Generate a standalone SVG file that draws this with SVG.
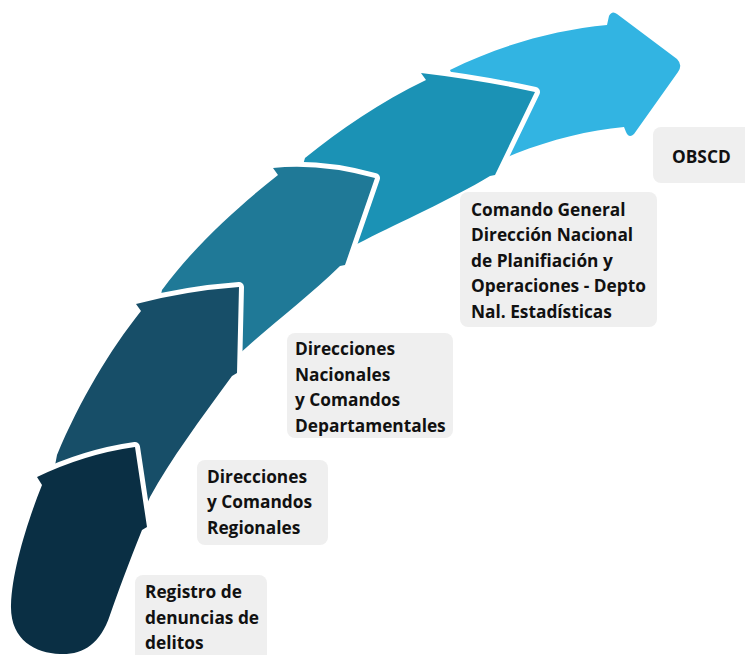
<svg xmlns="http://www.w3.org/2000/svg" width="745" height="655" viewBox="0 0 745 655">
<style>
.seg{stroke:#ffffff;stroke-width:10;stroke-linejoin:round;paint-order:stroke}
.box{fill:#efefef}
.lbl{font-family:"Open Sans",Lato,"DejaVu Sans",sans-serif;font-weight:700;font-size:17.3px;fill:#111111}
</style>
<rect width="745" height="655" fill="#ffffff"/>
<g id="connectors">
<path id="seg5" class="seg" fill="#32b4e2" d="M 450,70 C 500,45 555,30 607,25 L 609,16 Q 612,10 617,14 L 677,59 Q 683,65 678,72 L 634,134 Q 629,139 626,132 L 624,127 C 590,130 550,140 517,153 L 495,162 L 455,82 Z"/>
<path id="seg4" class="seg" fill="#1b92b5" d="M 426,80 L 421,73 Q 480,80 535,92 L 495,175 L 490,176 C 450,200 400,222 365,240 L 345,250 L 300,175 L 305,158 C 340,130 380,102 426,80 Z"/>
<path id="seg3" class="seg" fill="#1f7997" d="M 278,175 L 273,168 Q 320,163 375,178 L 345,265 L 340,266 C 310,295 275,322 247,347 L 230,362 L 158,308 L 162,290 C 195,245 240,205 278,175 Z"/>
<path id="seg2" class="seg" fill="#174e68" d="M 141,311 L 136,304 Q 185,291 239,287 L 237,373 L 232,376 C 200,420 170,460 150,497 L 140,520 L 50,492 L 57,455 C 80,400 110,350 141,311 Z"/>
<path id="seg1" class="seg" fill="#0a2f44" d="M 42,485 L 37,477 Q 85,454 135,447 L 147,527 L 142,530 C 128,565 118,592 110,615 C 100,645 82,655 60,654 C 35,653 10,640 11,605 C 12,570 28,520 42,485 Z"/>
</g>
<g id="n1">
<rect class="box" x="135" y="575" width="132" height="95" rx="8"/>
<text class="lbl" x="145" y="598">Registro de</text>
<text class="lbl" x="145" y="624">denuncias de</text>
<text class="lbl" x="145" y="649">delitos</text>
</g>
<g id="n2">
<rect class="box" x="197" y="460" width="131" height="85" rx="8"/>
<text class="lbl" x="207" y="483">Direcciones</text>
<text class="lbl" x="207" y="508">y Comandos</text>
<text class="lbl" x="207" y="534">Regionales</text>
</g>
<g id="n3">
<rect class="box" x="287" y="333" width="166" height="105" rx="8"/>
<text class="lbl" x="295" y="355">Direcciones</text>
<text class="lbl" x="295" y="381">Nacionales</text>
<text class="lbl" x="295" y="406">y Comandos</text>
<text class="lbl" x="295" y="432">Departamentales</text>
</g>
<g id="n4">
<rect class="box" x="460" y="192" width="197" height="135" rx="8"/>
<text class="lbl" x="471" y="216">Comando General</text>
<text class="lbl" x="471" y="241">Dirección Nacional</text>
<text class="lbl" x="471" y="267">de Planifiación y</text>
<text class="lbl" x="471" y="292">Operaciones - Depto</text>
<text class="lbl" x="471" y="318">Nal. Estadísticas</text>
</g>
<g id="n5">
<rect class="box" x="653" y="127" width="110" height="56" rx="8"/>
<text class="lbl" x="672" y="163">OBSCD</text>
</g>
</svg>
